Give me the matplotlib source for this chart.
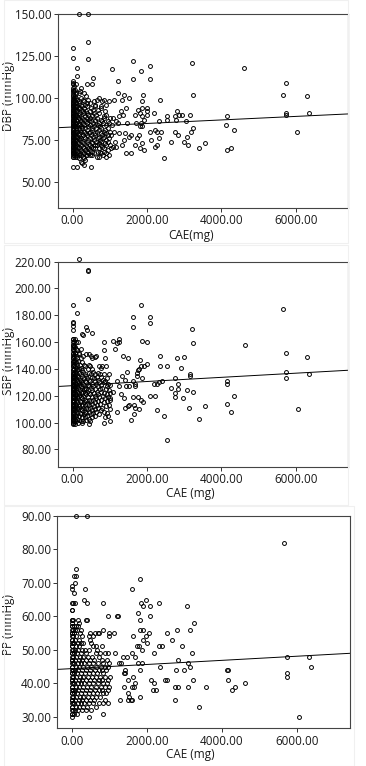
import numpy as np
import matplotlib
matplotlib.use("Agg")
import matplotlib.pyplot as plt
from matplotlib.patches import Rectangle

plt.rcParams['font.family'] = ['Open Sans', 'DejaVu Sans']

# (CAE mg, [blood pressure values at that CAE])
dbp_groups = [
    (0, [59, 65, 66, 67, 68, 69, 70, 71, 72, 73, 74, 75, 76, 77, 78, 79, 80, 81, 82, 83, 84, 85,
         86, 87, 88, 89, 90, 91, 92, 93, 94, 95, 96, 97, 98, 100, 102, 104, 106, 108, 110, 124, 130]),
    (20, [65, 67, 69, 71, 73, 75, 77, 79, 81, 83, 85, 87, 89, 91, 93, 95, 97, 99, 101, 103, 105, 109]),
    (45, [66, 68, 70, 72, 74, 76, 78, 80, 82, 84, 86, 88, 90, 92, 94, 96, 98, 100, 104, 107]),
    (70, [65, 68, 71, 73, 75, 78, 80, 83, 85, 88, 90, 93, 95, 98, 101, 105]),
    (100, [66, 69, 72, 75, 77, 80, 82, 85, 87, 90, 92, 95, 97, 100, 103, 108]),
    (130, [59, 65, 68, 71, 74, 77, 80, 83, 86, 89, 92, 95, 99, 113, 118]),
    (160, [66, 73, 79, 85, 91, 98]),
    (172, [70, 76, 82, 88, 94, 103]),
    (185, [64, 71, 78, 84, 90, 97, 150]),
    (198, [67, 75, 81, 87, 94, 104]),
    (225, [62, 69, 76, 83, 89, 96, 106]),
    (240, [66, 72, 80, 86, 93, 100]),
    (265, [61, 68, 74, 82, 88, 95]),
    (282, [65, 71, 78, 85, 92, 99]),
    (305, [60, 67, 73, 80, 87, 94]),
    (320, [64, 70, 77, 84, 91, 98, 103]),
    (345, [63, 69, 76, 82, 89, 96]),
    (362, [66, 72, 79, 86, 92, 101]),
    (385, [66, 71, 78, 85, 91, 97]),
    (400, [68, 74, 81, 88, 95, 108]),
    (425, [67, 75, 83, 90, 99, 123, 133, 150]),
    (440, [70, 79, 87]),
    (458, [66, 72, 80, 88]),
    (475, [69, 76, 84, 92, 97]),
    (492, [59, 71, 78, 86, 94]),
    (510, [68, 74, 82, 90]),
    (535, [66, 73, 81, 89, 108]),
    (552, [70, 77, 85, 93, 112]),
    (575, [67, 75, 83, 91, 98]),
    (592, [72, 79, 87, 96]),
    (615, [70, 78, 86, 95]),
    (632, [74, 82, 90]),
    (655, [65, 72, 80, 88, 99]),
    (672, [68, 76, 84, 93]),
    (700, [65, 73, 81, 91]),
    (712, [70, 77, 85, 100]),
    (735, [68, 75, 83]),
    (752, [72, 79, 87, 95]),
    (778, [67, 74, 82, 94]),
    (795, [71, 78, 86, 98]),
    (818, [66, 76, 85]),
    (835, [70, 80, 89]),
    (855, [68, 77, 88, 99]),
    (872, [73, 81, 92]),
    (895, [65, 72, 79, 90]),
    (912, [67, 75, 84, 96]),
    (940, [69, 78, 86]),
    (952, [74, 82]),
    (980, [66, 76, 85, 98]),
    (995, [72, 80, 88]),
    (1030, [70, 78]), (1060, [84, 117]), (1085, [88]), (1094, [71]), (1121, [80, 99]),
    (1139, [74]), (1166, [71]), (1180, [86]), (1210, [85, 110]), (1220, [103]),
    (1250, [79]), (1256, [89]), (1290, [92]), (1318, [72]), (1327, [99]), (1345, [90]),
    (1381, [75, 102]), (1417, [79]), (1435, [67, 94]), (1471, [85]), (1507, [77, 100]),
    (1578, [67, 78]), (1615, [122]), (1632, [111]), (1668, [72]), (1677, [90]),
    (1704, [85]), (1722, [76]), (1749, [93]), (1785, [78]), (1803, [70, 83]),
    (1812, [91]), (1839, [85, 116]), (1857, [73, 83, 94]), (1865, [89]), (1874, [98]),
    (1892, [102]), (1910, [69, 87]), (2000, [90, 92, 94]), (2081, [80, 111, 119]),
    (2099, [75]), (2197, [91]), (2206, [81]), (2215, [71]), (2269, [72]), (2278, [80]),
    (2314, [76, 86]), (2350, [99]), (2386, [80]), (2457, [64]), (2529, [87, 89]),
    (2646, [74]), (2753, [80]), (2762, [89]), (2771, [87]), (2798, [92]), (2843, [78]),
    (2852, [90]), (2942, [90]), (2996, [74]), (3058, [86]), (3067, [77]), (3112, [72]),
    (3166, [90]), (3184, [80]), (3202, [121]), (3247, [82, 102]), (3399, [70]),
    (3570, [73]), (4126, [84]), (4143, [89]), (4161, [69]), (4269, [70]), (4350, [81]),
    (4619, [118]), (5659, [102]), (5740, [90, 91, 109]), (6045, [80]), (6305, [101]),
    (6350, [91]),
]

sbp_groups = [
    (0, [99, 100, 101, 102, 103, 104, 105, 106, 107, 108, 109, 110, 111, 112, 113, 114, 115, 116,
         117, 118, 119, 120, 121, 122, 123, 124, 125, 126, 127, 128, 129, 130, 131, 132, 133, 134,
         135, 136, 138, 140, 142, 144, 146, 148, 150, 152, 154, 156, 158, 160, 162, 169, 172, 174,
         175, 188]),
    (20, [100, 103, 106, 109, 112, 115, 118, 121, 124, 127, 130, 133, 136, 139, 142, 145, 148,
          151, 155, 158, 162]),
    (45, [101, 104, 107, 110, 113, 116, 119, 122, 125, 128, 131, 134, 137, 140, 143, 146, 150,
          153, 157, 161]),
    (70, [99, 102, 106, 110, 114, 118, 122, 126, 130, 134, 138, 142, 146, 152, 156, 162]),
    (100, [101, 105, 109, 113, 117, 121, 125, 129, 133, 137, 141, 145, 150, 155, 160]),
    (125, [103, 107, 111, 115, 119, 123, 127, 131, 135, 139, 143, 148, 154, 182]),
    (150, [100, 110, 118, 126, 134, 146, 160]),
    (162, [105, 114, 122, 130, 140, 152]),
    (170, [222]),
    (180, [102, 112, 120, 128, 137, 151]),
    (195, [107, 116, 124, 132, 143]),
    (215, [101, 110, 119, 127, 136, 148]),
    (230, [106, 115, 123, 131, 141, 155]),
    (250, [100, 109, 118, 126, 135, 145, 166]),
    (265, [104, 113, 122, 130, 139]),
    (285, [101, 111, 120, 129, 138, 150, 165]),
    (298, [106, 115, 125, 133, 143]),
    (325, [104, 113, 122, 131, 142]),
    (338, [108, 117, 126, 136]),
    (355, [102, 111, 121, 130, 151, 171]),
    (368, [107, 116, 125, 135]),
    (395, [105, 114, 123, 133, 169]),
    (408, [110, 119, 128, 140]),
    (421, [192, 213, 214]),
    (435, [99, 108, 117, 127, 137, 151]),
    (450, [103, 113, 122, 132, 143]),
    (475, [101, 111, 121, 131, 142]),
    (490, [106, 116, 126, 136, 150]),
    (515, [104, 114, 124, 134, 148, 167]),
    (530, [109, 119, 129, 140]),
    (555, [107, 117, 127, 138]),
    (570, [112, 122, 133]),
    (595, [105, 115, 125, 136]),
    (610, [110, 120, 131, 149]),
    (635, [108, 118, 129, 150]),
    (650, [113, 123, 134]),
    (675, [111, 121, 132]),
    (690, [116, 127, 137]),
    (715, [106, 119, 130, 142]),
    (730, [114, 125, 136]),
    (755, [109, 123, 134]),
    (770, [117, 128, 141]),
    (800, [111, 126, 142]),
    (812, [120, 132]),
    (843, [100, 115, 130, 154, 160]),
    (855, [108, 122, 136]),
    (875, [104, 118, 131, 148]),
    (890, [112, 125, 142]),
    (915, [107, 121, 133]),
    (930, [116, 127]),
    (955, [105, 119, 129]),
    (970, [113, 124, 136]),
    (1004, [101, 117, 118, 128]),
    (1015, [110, 122]),
    (1085, [161]), (1094, [123]), (1148, [155]), (1193, [159]), (1202, [108, 131]),
    (1238, [160, 162]), (1256, [127]), (1300, [121]), (1318, [135]), (1363, [150]),
    (1381, [118]), (1417, [111, 132]), (1435, [127]), (1453, [138]), (1480, [112]),
    (1489, [148]), (1507, [127]), (1516, [113]), (1578, [102]), (1614, [131, 171, 179]),
    (1632, [119]), (1641, [106, 113]), (1668, [127, 129]), (1677, [111]), (1731, [135, 137]),
    (1758, [119, 139]), (1794, [110, 140]), (1821, [147]), (1839, [117, 142, 188]),
    (1857, [133]), (1874, [161]), (1901, [115]), (1928, [142]), (1991, [160]), (2000, [144]),
    (2072, [174, 179]), (2090, [120]), (2188, [129]), (2215, [120]), (2260, [129]),
    (2269, [109]), (2314, [130]), (2341, [150]), (2350, [142]), (2395, [131]), (2448, [105]),
    (2529, [87, 142]), (2655, [126]), (2753, [119, 122]), (2762, [133]), (2798, [148]),
    (2843, [125, 129]), (2915, [141]), (2978, [118]), (2987, [149]), (3067, [124]),
    (3121, [111]), (3166, [135, 136]), (3202, [170]), (3247, [123, 159]), (3399, [103]),
    (3570, [112]), (4143, [131]), (4161, [114, 129]), (4269, [108]), (4350, [120]),
    (4628, [158]), (5650, [185]), (5740, [133, 138, 152]), (6054, [110]), (6305, [149]),
    (6350, [136]),
]

pp_groups = [
    (0, [30, 31, 32, 33, 34, 35, 36, 37, 38, 39, 40, 41, 42, 43, 44, 45, 46, 47, 48, 49, 50, 51,
         52, 53, 54, 55, 56, 57, 58, 59, 62, 64, 68, 69]),
    (20, [31, 33, 35, 37, 39, 41, 43, 45, 47, 49, 51, 53, 55, 57, 59, 62]),
    (45, [32, 34, 36, 38, 40, 42, 44, 46, 48, 50, 52, 54, 56, 59, 64]),
    (70, [31, 34, 37, 40, 43, 46, 49, 52, 55, 57, 67, 72]),
    (95, [32, 35, 38, 41, 44, 47, 50, 53, 56, 64, 70]),
    (120, [33, 36, 39, 42, 45, 48, 51, 54, 57, 72, 74, 90]),
    (150, [31, 37, 43, 49, 56]),
    (162, [34, 40, 46, 52, 59]),
    (178, [32, 38, 44, 50, 57]),
    (190, [35, 41, 47, 53]),
    (205, [33, 39, 45, 51, 58]),
    (218, [36, 42, 48, 55]),
    (235, [34, 40, 46, 52]),
    (248, [37, 43, 49, 56]),
    (265, [32, 38, 44, 50]),
    (278, [35, 41, 47, 54]),
    (295, [33, 39, 45, 52]),
    (310, [36, 42, 48]),
    (335, [34, 40, 46, 65]),
    (348, [37, 43, 50, 68]),
    (375, [32, 38, 44, 49]),
    (388, [35, 41, 47, 59]),
    (395, [64, 90]),
    (420, [33, 39, 45, 59]),
    (432, [36, 42, 48]),
    (450, [30, 37, 43, 50]),
    (462, [34, 40, 46, 54]),
    (485, [35, 41, 47, 55]),
    (498, [38, 44, 53]),
    (515, [32, 39, 45, 52]),
    (528, [36, 42, 48]),
    (555, [34, 40, 46, 54]),
    (568, [37, 43, 51]),
    (595, [35, 41, 47]),
    (608, [38, 44, 55]),
    (635, [33, 39, 45, 51]),
    (648, [36, 42, 49]),
    (675, [37, 43, 50]),
    (690, [40, 46, 55]),
    (715, [34, 41, 48]),
    (728, [38, 44, 55]),
    (755, [36, 42, 49]),
    (768, [39, 45]),
    (795, [38, 44, 51]),
    (808, [41, 47]),
    (830, [31, 37, 43, 56, 64]),
    (845, [34, 40, 46]),
    (875, [35, 42, 49]),
    (888, [39, 45]),
    (915, [37, 44]),
    (928, [40, 47]),
    (960, [34, 41, 49, 60]),
    (972, [38, 45]),
    (1000, [39, 46, 54, 55]),
    (1012, [42]),
    (1129, [55]), (1156, [49]), (1218, [60]), (1227, [60]), (1253, [46]), (1289, [35]),
    (1316, [46]), (1360, [48]), (1404, [39, 43]), (1413, [44]), (1422, [43]), (1476, [48]),
    (1502, [37, 41]), (1511, [35]), (1520, [36]), (1582, [35]), (1600, [35, 39, 49]),
    (1618, [68]), (1627, [42]), (1644, [54]), (1662, [39]), (1689, [40, 48]), (1751, [51]),
    (1760, [46]), (1778, [61]), (1804, [51]), (1813, [56, 59]), (1822, [36, 71]),
    (1831, [44]), (1858, [64]), (1867, [50]), (1884, [46]), (1893, [53, 63]), (1911, [56]),
    (1982, [54, 65]), (2000, [52]), (2071, [55]), (2080, [60]), (2089, [63]), (2107, [41]),
    (2178, [38]), (2196, [49]), (2204, [40]), (2249, [38]), (2329, [51]), (2338, [64]),
    (2356, [45]), (2409, [51]), (2480, [41]), (2533, [41, 55]), (2667, [53]),
    (2756, [35, 39]), (2773, [44]), (2800, [56]), (2836, [47]), (2844, [39]), (2933, [51]),
    (2987, [44]), (3067, [63]), (3102, [46]), (3111, [39]), (3164, [45, 56]), (3200, [49]),
    (3244, [41]), (3253, [58]), (3404, [33]), (3591, [39]), (4133, [44]), (4169, [41, 44]),
    (4267, [38]), (4364, [39]), (4631, [40]), (5671, [82]), (5751, [42, 43, 48]),
    (6071, [30]), (6329, [48]), (6373, [45]),
]

# fitted lines: (intercept, slope per mg)
dbp_fit = (82.7, 0.00105)
sbp_fit = (127.5, 0.00155)
pp_fit = (44.4, 0.000615)

x_ticks = [0, 2000, 4000, 6000]
dbp_ticks = [50, 75, 100, 125, 150]
sbp_ticks = [80, 100, 120, 140, 160, 180, 200, 220]
pp_ticks = [30, 40, 50, 60, 70, 80, 90]

panels = [
    # groups, fit, yticks, ylim, xlim, ylabel, xlabel, axes rect, xlabel pos, ylabel pos
    (dbp_groups, dbp_fit, dbp_ticks, (34.5, 150), (-396, 7410), 'DBP (mmHg)', 'CAE(mg)',
     [0.158, 0.7285, 0.793, 0.2533], (0.46, -0.11), (-0.148, 0.579)),
    (sbp_groups, sbp_fit, sbp_ticks, (66.8, 220), (-396, 7410), 'SBP (mmHg)', 'CAE (mg)',
     [0.158, 0.3903, 0.793, 0.2681], (0.455, -0.096), (-0.148, 0.517)),
    (pp_groups, pp_fit, pp_ticks, (26.6, 90), (-384, 7422), 'PP (mmHg)', 'CAE (mg)',
     [0.1566, 0.0492, 0.7997, 0.2776], (0.453, -0.093), (-0.145, 0.49)),
]

outer_boxes = [(0.012, 0.683, 0.94, 0.317), (0.012, 0.341, 0.94, 0.339), (0.012, 0.0, 0.955, 0.339)]

fig = plt.figure(figsize=(3.66, 7.66), dpi=100)

for box in outer_boxes:
    fig.patches.append(Rectangle(box[:2], box[2], box[3], transform=fig.transFigure,
                                 fill=False, edgecolor='#f0f0f0', linewidth=0.8))

for groups, fit, yticks, ylim, xlim, ylab, xlab, rect, xlpos, ylpos in panels:
    ax = fig.add_axes(rect)
    xs = [c for c, vals in groups for v in vals]
    ys = [v for c, vals in groups for v in vals]
    ax.plot(xs, ys, 'o', markersize=2.8, markerfacecolor='none', markeredgecolor='black',
            markeredgewidth=0.7, clip_on=False, zorder=3)
    ax.axline((0, fit[0]), slope=fit[1], color='black', linewidth=0.7, zorder=2)
    ax.set_xlim(xlim)
    ax.set_ylim(ylim)
    ax.set_xticks(x_ticks)
    ax.set_xticklabels(['%.2f' % t for t in x_ticks])
    ax.set_yticks(yticks)
    ax.set_yticklabels(['%.2f' % t for t in yticks])
    ax.tick_params(length=3, width=0.7, color='#333333', labelsize=8.4, pad=1.5,
                   labelcolor='#1a1a1a')
    for s in ax.spines.values():
        s.set_color('#444444')
        s.set_linewidth(0.8)
    ax.set_xlabel(xlab, fontsize=8.5, color='#1a1a1a')
    ax.set_ylabel(ylab, fontsize=8.5, color='#1a1a1a')
    ax.xaxis.set_label_coords(*xlpos)
    ax.yaxis.set_label_coords(*ylpos)

fig.savefig('out.png', dpi=100)
